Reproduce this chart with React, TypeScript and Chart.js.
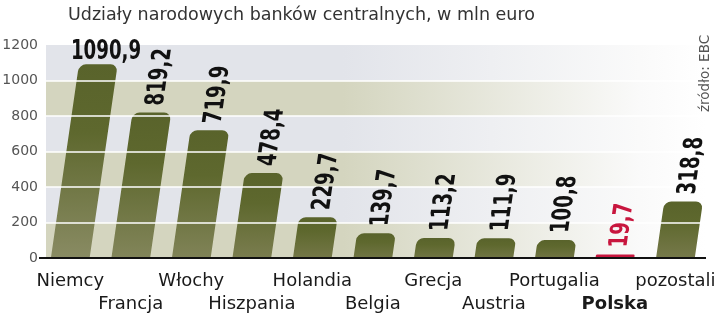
import { useEffect, useRef } from "react";
import { Chart, registerables } from "chart.js";

Chart.register(...registerables);

// ---- data ----
const categories = [
  "Niemcy", "Francja", "Włochy", "Hiszpania", "Holandia", "Belgia",
  "Grecja", "Austria", "Portugalia", "Polska", "pozostali",
];
const values = [1090.9, 819.2, 719.9, 478.4, 229.7, 139.7, 113.2, 111.9, 100.8, 19.7, 318.8];
const valueLabels = ["1090,9", "819,2", "719,9", "478,4", "229,7", "139,7", "113,2", "111,9", "100,8", "19,7", "318,8"];
const yTicks = [0, 200, 400, 600, 800, 1000, 1200];
const highlightCategory = "Polska";
const titleText = "Udziały narodowych banków centralnych, w mln euro";
const sourceText = "źródło: EBC";

// ---- styles ----
const SKEW = 0.145;
const SANS = '"DejaVu Sans", sans-serif';
const RED = "#c8163e";
const BAND_A = [212, 213, 191];
const BAND_B = [226, 228, 234];
const LABEL_SQUEEZE = 0.7;

function rgba(c: number[], a = 1) {
  return `rgba(${c[0]},${c[1]},${c[2]},${a})`;
}

const decorPlugin = {
  id: "decor",
  beforeDatasetsDraw(chart: any) {
    const { ctx, scales } = chart;
    const base = scales.y.getPixelForValue(0);
    ctx.save();
    ctx.transform(1, 0, -SKEW, 1, SKEW * base, 0);
  },
  afterDatasetsDraw(chart: any) {
    chart.ctx.restore();
  },
  beforeDraw(chart: any) {
    const { ctx, chartArea, scales } = chart;
    const y = scales.y;
    const left = chartArea.left + 6;
    const right = chartArea.right;
    ctx.save();
    for (let i = 0; i < yTicks.length - 1; i++) {
      const yb = y.getPixelForValue(yTicks[i]);
      const yt = y.getPixelForValue(yTicks[i + 1]);
      const c = i % 2 === 0 ? BAND_A : BAND_B;
      const g = ctx.createLinearGradient(left, 0, right, 0);
      g.addColorStop(0, rgba(c));
      g.addColorStop(0.45, rgba(c));
      g.addColorStop(0.9, "rgba(250,250,250,1)");
      g.addColorStop(1, "rgba(255,255,255,1)");
      ctx.fillStyle = g;
      ctx.fillRect(left, yt, right - left, yb - yt);
    }
    ctx.restore();
  },
  afterDraw(chart: any) {
    const { ctx, scales, chartArea } = chart;
    const base = scales.y.getPixelForValue(0);
    const meta = chart.getDatasetMeta(0);
    ctx.save();
    ctx.font = `bold 26px ${SANS}`;
    meta.data.forEach((el: any, i: number) => {
      const { x, y } = el.getProps(["x", "y"], true);
      const label = valueLabels[i];
      ctx.fillStyle = categories[i] === highlightCategory ? RED : "#111";
      const w = ctx.measureText(label).width * LABEL_SQUEEZE;
      const startY = y - 7;
      ctx.save();
      if (startY - w < 0) {
        const ly = y - 5;
        const lx = x + SKEW * (base - ly) + 7;
        ctx.translate(lx, ly);
        ctx.scale(LABEL_SQUEEZE, 1);
        ctx.textAlign = "center";
        ctx.textBaseline = "alphabetic";
        ctx.fillText(label, 0, 0);
      } else {
        // follow the slant of the bars
        ctx.transform(1, 0, -SKEW, 1, SKEW * base, 0);
        ctx.translate(x + 3, startY);
        ctx.rotate(-Math.PI / 2);
        ctx.scale(LABEL_SQUEEZE, 1);
        ctx.textAlign = "left";
        ctx.textBaseline = "middle";
        ctx.fillText(label, 0, 0);
      }
      ctx.restore();
    });
    // title
    ctx.fillStyle = "#333";
    ctx.font = `17.5px ${SANS}`;
    ctx.textAlign = "left";
    ctx.textBaseline = "alphabetic";
    ctx.fillText(titleText, 68, 20);
    // source
    ctx.save();
    ctx.font = `13.5px ${SANS}`;
    ctx.fillStyle = "#555";
    ctx.translate(chartArea.right, 112);
    ctx.rotate(-Math.PI / 2);
    ctx.textAlign = "left";
    ctx.textBaseline = "middle";
    ctx.fillText(sourceText, 0, 0);
    ctx.restore();
    ctx.restore();
  },
};

export default function App() {
  const ref = useRef<HTMLCanvasElement | null>(null);

  useEffect(() => {
    if (!ref.current) return;
    const labels = categories.map((c, i) => (i % 2 === 0 ? [c] : ["", c]));
    const chart = new Chart(ref.current, {
      type: "bar",
      data: {
        labels,
        datasets: [
          {
            data: values,
            backgroundColor: (c: any) => {
              if (c.dataIndex == null) return "#6b7236";
              if (categories[c.dataIndex] === highlightCategory) return RED;
              const ys = c.chart.scales?.y;
              if (!ys) return "#6b7236";
              const top = ys.getPixelForValue(c.raw);
              const bot = ys.getPixelForValue(0);
              if (!isFinite(top) || !isFinite(bot) || bot - top < 1) return "#6b7236";
              const f = Math.min(1, (bot - top) / 200);
              const b0 = [110, 114, 64], b1 = [138, 140, 100];
              const bc = b0.map((v, k) => Math.round(v + (b1[k] - v) * f));
              const g = c.chart.ctx.createLinearGradient(0, top, 0, bot);
              g.addColorStop(0, "#59632b");
              g.addColorStop(0.35, "#5e682e");
              g.addColorStop(1, rgba(bc));
              return g;
            },
            borderRadius: { topLeft: 7, topRight: 7, bottomLeft: 0, bottomRight: 0 },
            borderSkipped: "bottom",
            categoryPercentage: 1,
            barPercentage: 0.64,
          },
        ],
      },
      options: {
        animation: false,
        responsive: false,
        devicePixelRatio: 1,
        layout: { padding: { top: 45, right: 9, left: 0, bottom: 0 } },
        plugins: { legend: { display: false }, tooltip: { enabled: false }, title: { display: false } },
        scales: {
          x: {
            grid: { display: false },
            border: { display: true, color: "#111", width: 2, z: 2 },
            ticks: {
              autoSkip: false,
              maxRotation: 0,
              minRotation: 0,
              padding: 4,
              color: "#1a1a1a",
              font: (c: any) => ({
                family: SANS,
                size: 18,
                lineHeight: "23px",
                weight: categories[c.index] === highlightCategory ? "bold" : "normal",
              }),
            },
            afterFit: (s: any) => {
              s.height = 58;
            },
          },
          y: {
            min: 0,
            max: 1200,
            afterBuildTicks: (s: any) => {
              s.ticks = yTicks.map((v) => ({ value: v }));
            },
            grid: {
              z: 1,
              lineWidth: 2,
              drawTicks: false,
              color: (c: any) =>
                c.tick && (c.tick.value === 0 || c.tick.value === 1200)
                  ? "rgba(0,0,0,0)"
                  : "rgba(255,255,255,0.75)",
            },
            border: { display: false },
            ticks: {
              padding: 2,
              color: "#555",
              font: { family: SANS, size: 14 },
              callback: (v: any) => String(v),
            },
            afterFit: (s: any) => {
              s.width = 40;
            },
          },
        },
      },
      plugins: [decorPlugin],
    } as any);
    return () => chart.destroy();
  }, []);

  return (
    <div style={{ position: "absolute", left: 0, top: 0, width: 720, height: 316, background: "#fff" }}>
      <canvas ref={ref} width={720} height={316} />
    </div>
  );
}
